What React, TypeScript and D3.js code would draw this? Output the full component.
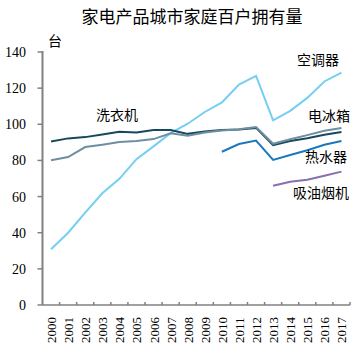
import React from "react";
import * as d3 from "d3";

const years = ["2000","2001","2002","2003","2004","2005","2006","2007","2008","2009","2010","2011","2012","2013","2014","2015","2016","2017"];
const yTicks = [0, 20, 40, 60, 80, 100, 120, 140];
const airCon = [30.8, 40.0, 51.1, 61.8, 69.8, 80.7, 87.8, 95.1, 100.3, 106.8, 112.1, 122.0, 126.8, 102.2, 107.4, 114.6, 123.7, 128.6];
const washer = [90.5, 92.2, 92.9, 94.4, 95.9, 95.5, 96.8, 96.8, 94.7, 96.0, 96.9, 97.1, 98.0, 88.4, 90.7, 92.3, 94.2, 95.7];
const fridge = [80.1, 81.9, 87.4, 88.7, 90.2, 90.7, 91.8, 95.0, 93.6, 95.4, 96.6, 97.2, 98.5, 89.2, 91.7, 94.0, 96.4, 98.0];
const heater: (number | null)[] = [null, null, null, null, null, null, null, null, null, null, 84.8, 89.1, 91.0, 80.3, 83.0, 85.6, 88.7, 90.7];
const hood: (number | null)[] = [null, null, null, null, null, null, null, null, null, null, null, null, null, 66.0, 68.2, 69.3, 71.5, 73.8];

const seriesNames = ["空调器", "洗衣机", "电冰箱", "热水器", "吸油烟机"];
const seriesData = [airCon, washer, fridge, heater, hood];
const seriesColors = ["#74cff2", "#17485e", "#6e8ea2", "#1b78bd", "#8670ad"];
const labelPos = [[318, 60], [117, 115], [329, 116], [326, 157], [321, 193]];

export default function App() {
  const W = 355, H = 347;
  const left = 42.5, right = 350, top = 52, bottom = 305;
  const x = d3.scaleBand().domain(years).range([left, right]);
  const y = d3.scaleLinear().domain([0, 140]).range([bottom, top]);
  const line = d3.line<number | null>()
    .defined(d => d != null)
    .x((_, i) => (x(years[i]) as number) + x.bandwidth() / 2)
    .y(d => y(d as number));
  const axisColor = "#808080";
  return (
    <svg width={W} height={H} style={{ position: "absolute", left: 0, top: 0, background: "#fff" }}>
      <text x={192} y={23} textAnchor="middle" fontSize={17} fontFamily="'Noto Sans CJK SC'" fill="#000">家电产品城市家庭百户拥有量</text>
      <text x={48} y={46} fontSize={14} fontFamily="'Noto Sans CJK SC'" fill="#000">台</text>
      {yTicks.map(t => (
        <g key={t}>
          <line x1={left - 5} x2={left} y1={y(t)} y2={y(t)} stroke={axisColor} strokeWidth={1.5} />
          <text x={26} y={y(t) + 5} textAnchor="end" fontSize={14} fontFamily="'Liberation Serif'" fill="#000">{t}</text>
        </g>
      ))}
      {years.map((yr, i) => (
        <line key={"t" + yr} x1={(x(yr) as number) + x.bandwidth()} x2={(x(yr) as number) + x.bandwidth()} y1={bottom} y2={bottom - 3} stroke={axisColor} strokeWidth={1.5} />
      ))}
      <line x1={left} x2={left} y1={top - 1} y2={bottom} stroke={axisColor} strokeWidth={2} />
      <line x1={left} x2={right} y1={bottom} y2={bottom} stroke={axisColor} strokeWidth={1.5} />
      {years.map(yr => {
        const cx = (x(yr) as number) + x.bandwidth() / 2;
        return (
          <text key={yr} transform={`translate(${cx + 5},${343}) rotate(-90)`} fontSize={13} fontFamily="'Liberation Serif'" fill="#000">{yr}</text>
        );
      })}
      {seriesData.map((s, i) => (
        <path key={seriesNames[i]} d={line(s) || ""} fill="none" stroke={seriesColors[i]} strokeWidth={2} />
      ))}
      {seriesNames.map((n, i) => (
        <text key={"l" + n} x={labelPos[i][0]} y={labelPos[i][1] + 5} textAnchor="middle" fontSize={14} fontFamily="'Noto Sans CJK SC'" fill="#000">{n}</text>
      ))}
    </svg>
  );
}
